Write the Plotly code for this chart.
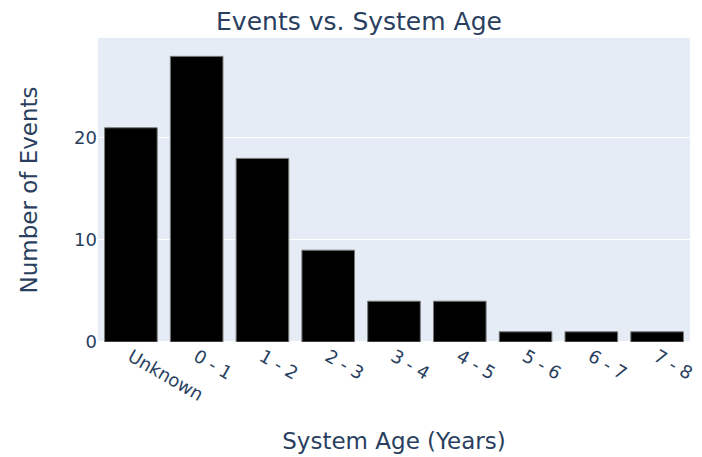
import plotly.graph_objects as go

categories = ["Unknown", "0 - 1", "1 - 2", "2 - 3", "3 - 4", "4 - 5", "5 - 6", "6 - 7", "7 - 8"]
events = [21, 28, 18, 9, 4, 4, 1, 1, 1]

FONT = "DejaVu Sans, Verdana, sans-serif"

fig = go.Figure(go.Bar(
    x=categories, y=events,
    marker=dict(color="black", line=dict(color="rgb(120,120,120)", width=1)),
))
fig.update_layout(
    template="plotly",
    width=702, height=457,
    margin=dict(l=90, r=20, t=30, b=123),
    font=dict(family=FONT, size=18, color="#2a3f5f"),
    title=dict(text="Events vs. System Age", x=0.5, xanchor="center", y=0.971, yanchor="middle",
               font=dict(size=25)),
    xaxis=dict(title=dict(text="System Age (Years)", font=dict(size=23), standoff=28),
               tickangle=30, automargin=False),
    yaxis=dict(title=dict(text="Number of Events", font=dict(size=23), standoff=30),
               range=[0, 29.8], dtick=10, automargin=False),
)
fig.write_html("out.html")
